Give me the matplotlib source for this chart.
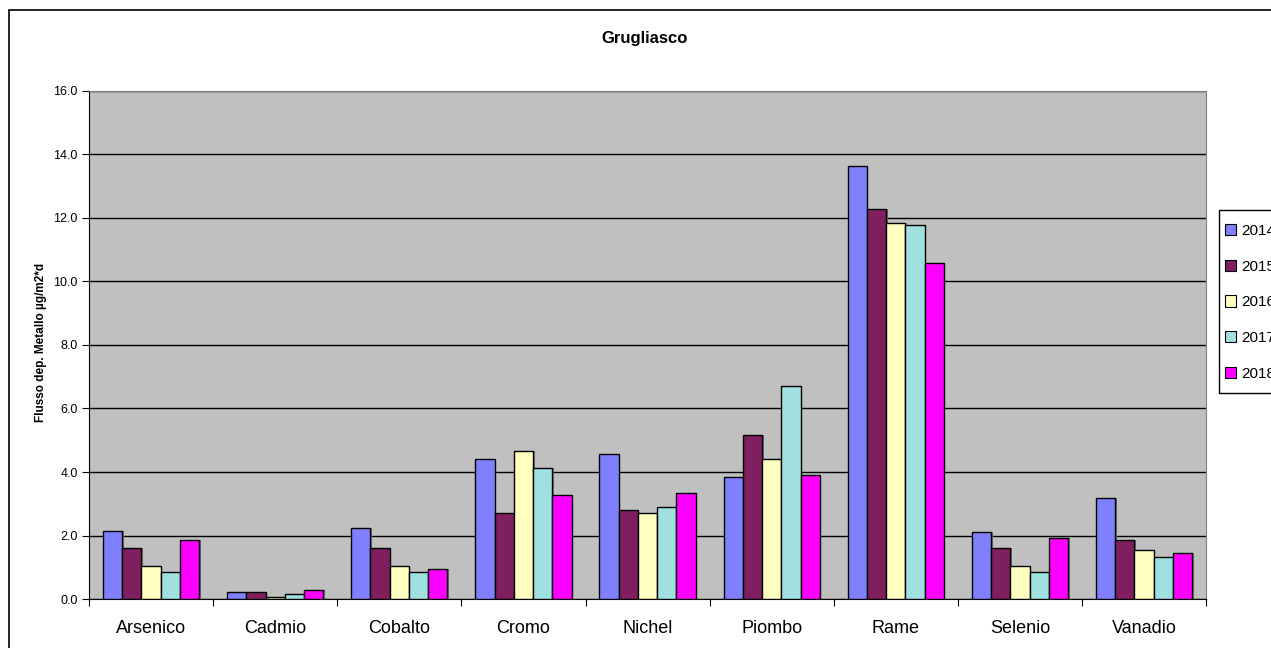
import numpy as np
import matplotlib
matplotlib.use("Agg")
import matplotlib.pyplot as plt
from matplotlib.patches import Rectangle

plt.rcParams['font.family'] = ['Liberation Sans', 'DejaVu Sans']

metalli = ['Arsenico', 'Cadmio', 'Cobalto', 'Cromo', 'Nichel',
           'Piombo', 'Rame', 'Selenio', 'Vanadio']
anni = ['2014', '2015', '2016', '2017', '2018']

v2014 = [2.14, 0.22, 2.23, 4.42, 4.58, 3.83, 13.63, 2.10, 3.19]
v2015 = [1.62, 0.22, 1.62, 2.72, 2.81, 5.16, 12.29, 1.62, 1.86]
v2016 = [1.05, 0.07, 1.05, 4.67, 2.72, 4.42, 11.85, 1.03, 1.55]
v2017 = [0.86, 0.17, 0.86, 4.12, 2.91, 6.71, 11.77, 0.84, 1.31]
v2018 = [1.86, 0.28, 0.95, 3.28, 3.34, 3.92, 10.59, 1.92, 1.46]
serie = [v2014, v2015, v2016, v2017, v2018]
colori = ['#8080FF', '#801F60', '#FFFFC0', '#A0E0E0', '#FF00FF']

fig = plt.figure(figsize=(12.71, 6.48), dpi=100)
ax = fig.add_axes([0.070, 0.0756, 0.879, 0.784])

x = np.arange(len(metalli))
w = 0.155
for i, (vals, c) in enumerate(zip(serie, colori)):
    pos = x + (i - 2) * w
    # ombra leggera a destra delle barre
    ax.bar(pos + 0.012, vals, w, color='#707070', linewidth=0, zorder=2)
    ax.bar(pos, vals, w, color=c, edgecolor='black', linewidth=1.0,
           label=anni[i], zorder=3)

ax.set_facecolor('#C0C0C0')
ax.set_xlim(-0.5, len(metalli) - 0.5)
ax.set_ylim(0, 16)
ax.set_yticks(np.arange(0, 16.1, 2))
ax.set_yticklabels([f'{v:.1f}' for v in np.arange(0, 16.1, 2)], fontsize=9)
ax.yaxis.grid(True, color='black', linewidth=1.0, zorder=1)
ax.set_axisbelow(True)

ax.set_xticks(np.arange(-0.5, len(metalli), 1))
ax.set_xticklabels([])
ax.set_xticks(x, minor=True)
ax.set_xticklabels(metalli, minor=True, fontsize=13)
ax.tick_params(axis='x', which='minor', length=0, pad=15)
ax.tick_params(axis='x', which='major', length=5, direction='out', color='black')
ax.tick_params(axis='y', length=5, direction='out', pad=3)

for s in ['top', 'right']:
    ax.spines[s].set_color('#808080')
for s in ['left', 'bottom']:
    ax.spines[s].set_color('black')

ax.set_ylabel('Flusso dep. Metallo µg/m2*d', fontsize=8.5, fontweight='bold')
ax.yaxis.set_label_coords(-0.0375, 0.505)

fig.text(0.507, 1 - 39 / 648, 'Grugliasco', ha='center', va='center',
         fontsize=12, fontweight='bold')

# legenda (tagliata sul bordo destro come nell'originale)
leg = fig.legend(loc='upper left', bbox_to_anchor=(1225 / 1271, 1 - 224 / 648),
                 fontsize=11, frameon=False,
                 handlelength=0.75, handleheight=0.75, handletextpad=0.3,
                 labelspacing=1.42, borderpad=0.0, borderaxespad=0)
for h in leg.legend_handles:
    h.set_linewidth(0.8)
fig.patches.append(Rectangle((1219 / 1271, 1 - 393 / 648), 0.1, 183 / 648,
                             transform=fig.transFigure, fill=False,
                             edgecolor='black', linewidth=1.0))

fig.patches.append(Rectangle((9 / 1271, -0.1), 1.2, 1 - 10 / 648 + 0.1,
                             transform=fig.transFigure, fill=False,
                             edgecolor='black', linewidth=1.2))

fig.savefig('out.png', dpi=100)
